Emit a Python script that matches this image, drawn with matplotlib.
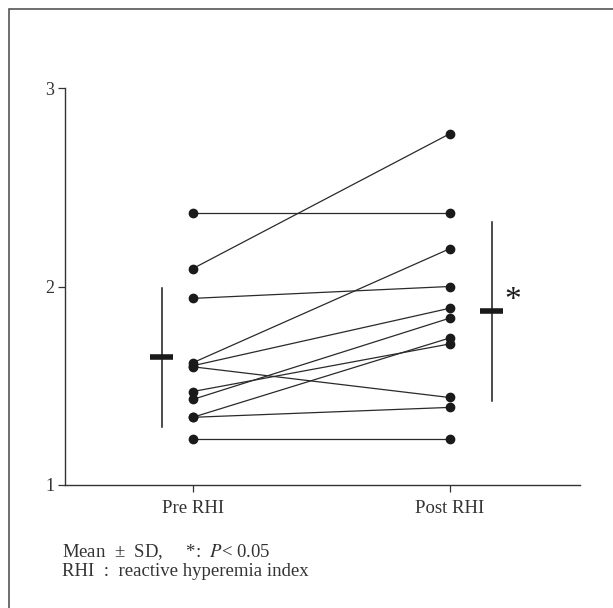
import matplotlib.pyplot as plt
from matplotlib.patches import Rectangle

plt.rcParams['font.family'] = 'serif'
plt.rcParams['font.serif'] = ['Liberation Serif', 'DejaVu Serif']
plt.rcParams['mathtext.fontset'] = 'stix'

# values (one pair per subject)
pre = [2.37, 2.09, 1.94, 1.615, 1.60, 1.595, 1.47, 1.43, 1.34, 1.34, 1.23]
post = [2.37, 2.77, 2.00, 2.19, 1.89, 1.44, 1.71, 1.84, 1.74, 1.39, 1.23]
groups = ['Pre RHI', 'Post RHI']
means = [1.643, 1.874]
sds = [0.35, 0.45]

fig = plt.figure(figsize=(6.13, 6.08), dpi=100)
W, H = 613, 608
# axes placed in pixel units
ax = fig.add_axes([65.3 / W, 1 - 484.7 / H, (580 - 65.3) / W, (484.7 - 88.3) / H])

# frame around the whole panel
fig.patches.append(Rectangle((8.6 / W, -0.1), 1.2, 1 - 8.6 / H + 0.1,
                             transform=fig.transFigure, fill=False,
                             edgecolor='#555555', linewidth=1.2))

# paired lines
for a, b in zip(pre, post):
    ax.plot([0, 1], [a, b], color='#2a2a2a', lw=0.9, zorder=2)
ax.plot([0] * len(pre), pre, 'o', color='#1a1a1a', ms=6, zorder=3)
ax.plot([1] * len(post), post, 'o', color='#1a1a1a', ms=6, zorder=3)

# mean +- SD
xm = [-0.12, 1.165]
for x, m, s in zip(xm, means, sds):
    ax.plot([x, x], [m - s, m + s], color='#1a1a1a', lw=1.1)
    ax.plot([x - 0.045, x + 0.045], [m, m], color='#1a1a1a', lw=4, solid_capstyle='butt')
ax.text(1.212, 1.93, '*', fontsize=24, ha='left', va='center', color='#1a1a1a')

ax.set_xlim(-0.496, 1.508)
ax.set_ylim(1, 3)
ax.set_yticks([1, 2, 3])
ax.set_xticks([0, 1])
ax.set_xticklabels(groups)
ax.spines['top'].set_visible(False)
ax.spines['right'].set_visible(False)
for sp in ['left', 'bottom']:
    ax.spines[sp].set_color('#333333')
    ax.spines[sp].set_linewidth(1.0)
ax.tick_params(axis='both', length=5, width=0.9, color='#333333',
               labelsize=13, labelcolor='#333333')
ax.tick_params(axis='x', labelsize=13.5, pad=6)
ax.tick_params(axis='y', pad=3)

fig.text(61.8 / W, 1 - 552 / H, 'Mean  ±  SD,     *:  $P$< 0.05', fontsize=13.5,
         va='center', ha='left', color='#333333')
fig.text(61.8 / W, 1 - 572 / H, 'RHI  :  reactive hyperemia index', fontsize=13.5,
         va='center', ha='left', color='#333333')

fig.savefig('out.png', dpi=100)
